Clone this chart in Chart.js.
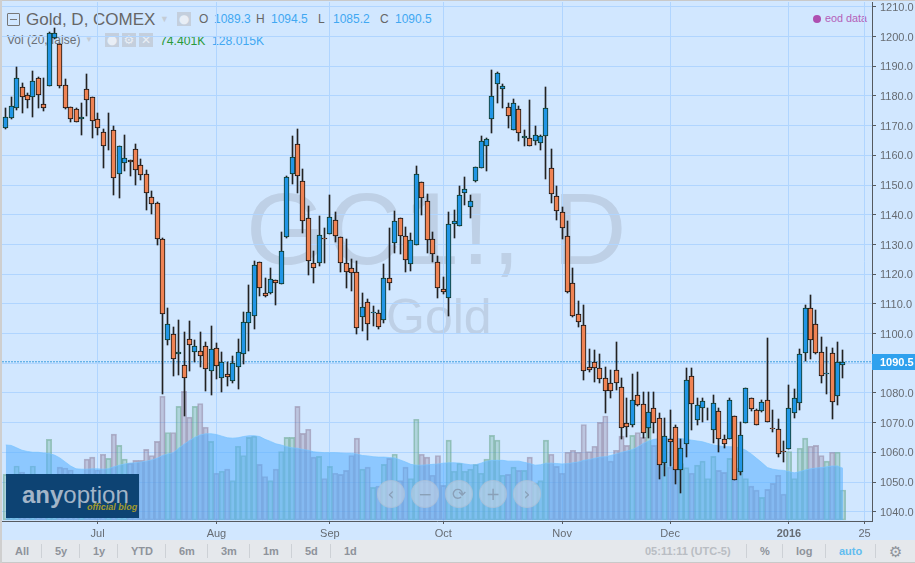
<!DOCTYPE html>
<html>
<head>
<meta charset="utf-8">
<script src="https://cdn.jsdelivr.net/npm/chart.js@4"></script>
<style>
  html, body { margin: 0; padding: 0; }
  body { width: 915px; height: 563px; position: relative; overflow: hidden; background: #d1e7ff; font-family: "Liberation Sans", Arial, sans-serif; }
  #chart { position: absolute; left: 0; top: 0; z-index: 2; }
  .t { position: absolute; white-space: nowrap; line-height: 1; }
  .under { z-index: 1; }
  .wm { color: #bed0e6; }
  .blue { color: #41a8f2; }
  .ico { position: absolute; width: 14px; height: 14px; background: #c4cfdd; color: #e8eef6; text-align: center; line-height: 14px; font-size: 12px; z-index: 1; font-family: "DejaVu Sans"; }
  #frameT { position: absolute; left: 0; top: 0; width: 915px; height: 1px; background: #c9c9c9; z-index: 4; }
  #frameL { position: absolute; left: 0; top: 0; width: 2px; height: 563px; background: #cfcfcf; z-index: 4; }
  #bar { position: absolute; left: 0; top: 540px; width: 915px; height: 22px; background: #e5e8ec; border-bottom: 1px solid #c9c9c9; z-index: 3; }
  #bar .t { top: 6px; font-size: 11px; font-weight: bold; color: #8e939b; }
  #bar i { position: absolute; top: 4px; width: 1px; height: 14px; background: #cdd1d6; }
  #logo { position: absolute; left: 6px; top: 474px; width: 133px; height: 44px; background: #0d4373; z-index: 3; }
  .zb { position: absolute; top: 480px; width: 26px; height: 26px; border-radius: 50%; background: rgba(195,210,228,.6); border: 1px solid rgba(165,185,210,.5); color: #8aa0b8; font: 17px/26px "DejaVu Sans"; text-align: center; z-index: 3; }
</style>
</head>
<body>
<div class="t under wm" style="left:246px;top:178px;font-size:102px;letter-spacing:2px">GC1!, D</div>
<div class="t under wm" style="left:386px;top:292px;font-size:50px">Gold</div>

<div class="under" style="position:absolute;left:7px;top:13px;width:11px;height:11px;border:1px solid #777;border-radius:1px"></div>
<div class="under" style="position:absolute;left:10px;top:19px;width:7px;height:1px;background:#777"></div>
<div class="t under" style="left:26px;top:11px;font-size:17px;color:#666">Gold, D, COMEX</div>
<div class="t under" style="left:160px;top:15px;font-size:9px;color:#c4ccd6">▼</div>
<div class="ico" style="left:177px;top:12px">●</div>
<div class="t under" style="left:199px;top:13px;font-size:12px;color:#666">O</div>
<div class="t under blue" style="left:214px;top:13px;font-size:12px">1089.3</div>
<div class="t under" style="left:256px;top:13px;font-size:12px;color:#666">H</div>
<div class="t under blue" style="left:271px;top:13px;font-size:12px">1094.5</div>
<div class="t under" style="left:318px;top:13px;font-size:12px;color:#666">L</div>
<div class="t under blue" style="left:333px;top:13px;font-size:12px">1085.2</div>
<div class="t under" style="left:380px;top:13px;font-size:12px;color:#666">C</div>
<div class="t under blue" style="left:395px;top:13px;font-size:12px">1090.5</div>

<div class="t under" style="left:7px;top:34px;font-size:12px;color:#6a6f76">Vol (20, false)</div>
<div class="t under" style="left:85px;top:36px;font-size:8px;color:#c4ccd6">▼</div>
<div class="ico" style="left:105px;top:33px">●</div>
<div class="ico" style="left:122px;top:33px">⚙</div>
<div class="ico" style="left:139px;top:33px">✕</div>
<div class="t under" style="left:160px;top:35px;font-size:12.2px;color:#2a9a3a">74.401K</div>
<div class="t under blue" style="left:212px;top:35px;font-size:12.2px">128.015K</div>

<div class="under" style="position:absolute;left:813px;top:15px;width:8px;height:8px;border-radius:50%;background:#ae4fb0"></div>
<div class="t under" style="left:825px;top:13px;font-size:10.8px;color:#b45fb8">eod data</div>

<canvas id="chart" width="915" height="563"></canvas>

<div id="logo">
  <div class="t" style="left:16px;top:9px;font-size:24px;color:#a3b5c8"><b>any</b>option</div>
  <div class="t" style="left:81px;top:29px;font-size:9px;font-weight:bold;font-style:italic;color:#a39a2c">official blog</div>
</div>
<div class="zb" style="left:377px">‹</div>
<div class="zb" style="left:411px">−</div>
<div class="zb" style="left:445px">⟳</div>
<div class="zb" style="left:479px">+</div>
<div class="zb" style="left:513px">›</div>

<div id="bar">
  <span class="t" style="left:15px">All</span><i style="left:41px"></i>
  <span class="t" style="left:55px">5y</span><i style="left:79px"></i>
  <span class="t" style="left:93px">1y</span><i style="left:117px"></i>
  <span class="t" style="left:131px">YTD</span><i style="left:165px"></i>
  <span class="t" style="left:179px">6m</span><i style="left:207px"></i>
  <span class="t" style="left:221px">3m</span><i style="left:249px"></i>
  <span class="t" style="left:263px">1m</span><i style="left:291px"></i>
  <span class="t" style="left:305px">5d</span><i style="left:330px"></i>
  <span class="t" style="left:344px">1d</span>
  <span class="t" style="left:645px;color:#b9bdc3">05:11:11 (UTC-5)</span><i style="left:746px"></i>
  <span class="t" style="left:760px">%</span><i style="left:782px"></i>
  <span class="t" style="left:796px">log</span><i style="left:825px"></i>
  <span class="t" style="left:839px;color:#62bdf0">auto</span><i style="left:875px"></i>
  <span class="t" style="left:889px;top:3px;font:15px 'DejaVu Sans'">⚙</span>
</div>
<div id="frameT"></div>
<div id="frameL"></div>

<script>
// daily bars, Jun 2015 - Jan 2016
const opens = [
  1169.2,1172.6,1175.9,1182.9,1180.2,1179.6,1186.2,1177.3,1183.3,1199.5,
  1197.5,1183.7,1176.3,1175.7,1172.2,1182.3,1179.6,1172.2,1167.8,1172.8,
  1168.5,1153.7,1157.4,1158.4,1162.1,1156.7,1153.7,1146.0,1143.9,1132.0,
  1097.8,1099.8,1093.1,1089.4,1098.3,1093.8,1094.1,1095.8,1087.4,1095.1,
  1085.0,1086.4,1083.9,1088.7,1093.1,1103.5,1105.9,1124.1,1113.6,1113.6,
  1118.0,1116.7,1132.4,1153.7,1163.8,1151.3,1138.9,1123.9,1123.7,1132.2,
  1133.5,1138.2,1132.5,1123.7,1122.1,1120.7,1105.6,1110.6,1107.1,1106.9,
  1104.5,1118.7,1130.5,1138.9,1132.8,1123.4,1129.8,1150.9,1144.6,1131.8,
  1124.1,1115.0,1112.0,1136.9,1136.2,1147.3,1142.6,1151.3,1155.7,1163.0,
  1172.2,1184.0,1182.3,1176.3,1168.5,1175.6,1165.8,1165.8,1164.8,1164.1,
  1166.5,1155.7,1146.3,1140.9,1132.8,1117.0,1106.6,1102.9,1088.7,1090.4,
  1088.4,1085.0,1083.3,1087.7,1082.0,1069.9,1069.2,1079.3,1076.3,1068.2,
  1074.9,1071.5,1056.4,1064.5,1068.5,1054.0,1062.8,1085.8,1070.9,1074.9,
  1072.8,1067.5,1073.9,1064.5,1064.5,1072.1,1053.4,1069.9,1078.3,1074.2,
  1073.9,1077.6,1068.2,1067.8,1060.4,1061.1,1073.2,1076.5,1093.4,1108.6,
  1103.2,1093.8,1086.5,1093.4,1079.0,1089.3
];
const closes = [
  1172.9,1176.8,1185.9,1179.6,1178.6,1185.0,1180.3,1176.1,1201.2,1201.2,
  1183.3,1175.9,1172.2,1171.2,1172.9,1178.6,1171.6,1169.2,1163.1,1173.0,
  1152.4,1163.1,1159.1,1157.7,1155.0,1153.4,1147.2,1143.6,1131.8,1106.6,
  1103.1,1091.4,1093.8,1085.2,1096.1,1095.7,1092.4,1088.0,1094.8,1089.1,
  1090.4,1085.4,1090.1,1093.8,1103.9,1107.2,1123.1,1115.3,1112.6,1118.4,
  1117.0,1127.8,1152.7,1159.4,1153.0,1137.9,1124.4,1122.1,1133.2,1131.8,
  1139.2,1132.8,1123.7,1120.7,1120.4,1101.9,1108.9,1103.2,1107.3,1102.2,
  1118.7,1116.9,1137.9,1132.8,1124.7,1131.5,1153.7,1145.6,1131.5,1126.8,
  1115.3,1114.0,1136.9,1137.9,1146.6,1148.7,1144.6,1156.1,1164.8,1165.5,
  1180.0,1187.7,1183.3,1173.2,1177.6,1167.5,1166.5,1163.1,1166.8,1166.4,
  1175.9,1147.0,1141.2,1135.5,1114.0,1105.9,1103.9,1087.4,1087.7,1088.4,
  1084.7,1080.6,1080.6,1083.3,1068.2,1068.5,1077.6,1075.9,1066.5,1073.6,
  1069.9,1055.9,1065.5,1063.5,1054.0,1061.4,1084.4,1076.3,1075.9,1077.3,
  1073.0,1076.6,1064.5,1062.8,1077.6,1050.7,1065.8,1081.6,1074.6,1069.2,
  1076.9,1070.2,1067.8,1059.4,1060.1,1074.9,1078.3,1093.1,1108.6,1097.8,
  1093.4,1085.7,1086.7,1076.9,1090.4,1090.5
];
const highs = [
  1175.9,1179.8,1189.7,1184.3,1181.0,1188.5,1186.4,1186.0,1201.7,1202.9,
  1197.6,1185.7,1176.4,1175.8,1177.6,1187.5,1179.7,1174.2,1168.9,1174.4,
  1170.0,1163.2,1166.9,1158.5,1163.8,1158.9,1155.1,1148.1,1144.3,1132.1,
  1108.6,1102.2,1104.5,1100.5,1104.3,1097.9,1100.5,1097.1,1102.6,1096.8,
  1093.8,1090.5,1092.3,1098.2,1107.2,1116.4,1124.5,1124.2,1118.8,1122.2,
  1118.1,1134.3,1152.9,1166.6,1168.9,1155.4,1143.0,1127.9,1139.7,1135.7,
  1146.7,1140.9,1132.6,1131.9,1125.2,1124.4,1113.7,1111.6,1109.4,1108.0,
  1123.5,1135.5,1141.2,1139.0,1136.0,1133.8,1156.5,1151.0,1147.1,1134.3,
  1126.2,1118.9,1141.0,1141.6,1149.8,1152.7,1146.7,1156.2,1166.6,1165.8,
  1188.8,1188.0,1184.1,1177.8,1179.1,1176.5,1168.6,1178.7,1170.0,1166.9,
  1183.0,1162.1,1149.8,1142.6,1138.0,1122.1,1111.0,1109.7,1094.8,1094.4,
  1093.1,1088.7,1087.7,1097.1,1085.0,1078.4,1086.5,1087.1,1080.3,1080.3,
  1080.3,1073.2,1071.5,1074.3,1069.3,1064.5,1088.5,1088.5,1078.3,1078.4,
  1075.0,1079.4,1074.9,1065.9,1078.3,1072.2,1070.3,1081.7,1078.4,1074.6,
  1077.5,1098.5,1074.3,1071.2,1063.7,1082.8,1081.3,1094.8,1109.7,1113.1,
  1108.0,1098.8,1095.5,1095.1,1097.1,1094.5
];
const lows = [
  1169.0,1172.4,1175.4,1174.4,1176.1,1172.8,1175.8,1174.8,1183.3,1199.3,
  1182.7,1175.7,1171.2,1171.1,1167.0,1173.1,1165.7,1166.7,1155.9,1161.9,
  1146.7,1145.7,1154.9,1153.2,1149.9,1151.8,1141.7,1140.3,1129.7,1079.7,
  1096.0,1085.6,1085.9,1072.1,1087.5,1090.6,1088.9,1080.8,1079.2,1084.8,
  1080.5,1082.2,1083.5,1081.5,1089.6,1094.0,1101.5,1112.7,1112.2,1113.5,
  1109.7,1116.6,1132.3,1150.4,1147.5,1134.0,1119.6,1116.9,1122.9,1123.7,
  1133.4,1130.9,1120.6,1115.5,1114.5,1100.0,1100.9,1097.7,1102.4,1101.4,
  1103.5,1114.8,1127.0,1126.9,1120.9,1121.2,1129.7,1140.0,1127.3,1124.2,
  1112.1,1113.3,1105.8,1132.3,1136.1,1143.3,1138.8,1151.2,1155.6,1154.9,
  1167.4,1177.8,1175.9,1169.2,1168.4,1164.9,1163.2,1163.0,1163.6,1161.9,
  1152.2,1143.9,1138.3,1131.9,1113.6,1105.6,1102.2,1084.4,1087.2,1083.8,
  1083.3,1073.2,1078.4,1081.1,1064.5,1065.3,1068.4,1075.5,1064.8,1065.0,
  1066.5,1051.1,1051.9,1055.3,1049.4,1046.3,1058.6,1067.6,1069.3,1070.2,
  1071.0,1063.2,1060.0,1061.6,1064.4,1050.6,1052.5,1069.8,1073.9,1069.1,
  1073.7,1070.1,1066.7,1058.3,1056.6,1061.0,1071.6,1074.3,1090.8,1091.5,
  1093.1,1083.3,1079.5,1071.2,1075.8,1085.2
];
// volume in thousands
const volumes = [
  113,99,134,119,105,134,105,100,200,110,
  131,129,124,110,100,151,156,124,163,153,
  213,185,151,141,148,148,175,160,195,307,
  217,217,282,319,255,282,289,230,195,116,
  121,126,98,183,160,205,208,138,108,98,
  126,170,205,205,282,215,225,156,158,103,
  133,116,113,123,160,203,126,131,81,84,
  138,153,163,98,131,103,250,163,156,111,
  160,86,198,121,141,121,126,138,116,151,
  210,198,111,113,131,123,123,156,91,98,
  198,163,133,116,168,173,168,237,170,183,
  242,258,146,173,208,185,210,217,205,230,
  185,150,140,131,131,140,130,116,136,146,
  103,158,123,118,153,129,118,103,84,74,
  56,76,91,111,64,170,103,178,203,183,
  185,160,146,168,168,74.4
];
const volumeMA = [
  186,185,179,173,170,168,168,166,165,161,
  154,144,134,127,126,126,127,127,126,127,
  132,136,139,141,142,144,146,149,153,160,
  164,167,178,188,197,205,211,214,214,212,
  208,204,203,204,207,209,209,207,200,195,
  189,186,182,179,178,175,173,169,168,167,
  167,167,166,165,165,164,160,159,157,156,
  156,155,154,149,144,138,136,136,137,138,
  139,141,142,142,141,139,137,137,141,146,
  148,148,148,146,146,146,143,140,136,137,
  141,141,140,139,140,142,144,148,150,153,
  156,157,160,164,168,171,175,181,190,196,
  200,202,203,202,202,202,200,198,196,194,
  190,186,184,182,182,181,179,173,164,153,
  142,130,126,124,123,120,117,120,124,127,
  129,130,132,134,134,128
];

const priceTicks = [1040,1050,1060,1070,1080,1090,1100,1110,1120,1130,1140,1150,1160,1170,1180,1190,1200,1210];
const monthIndex = [17,39,60,81,103,123,145,159];
const monthLabels = ['Jul','Aug','Sep','Oct','Nov','Dec','2016','25'];

const xMin = -0.704, xMax = 160.37;
const lastClose = closes[closes.length - 1];

const isUp = closes.map((c, i) => c >= opens[i]);
const upFill = '#2196e6', upEdge = '#12361f';
const downFill = '#ef8354', downEdge = '#111111';

// snap candles to whole pixels, the reference is crisp
const snapCandles = {
  id: 'snapCandles',
  beforeDatasetsDraw(chart) {
    chart.data.datasets.forEach((ds, n) => {
      if (!ds.snap) return;
      chart.getDatasetMeta(n).data.forEach(el => {
        el.x = Math.round(el.x - 0.5) + 0.5;
        el.y = Math.round(el.y);
        el.base = Math.round(el.base);
      });
    });
  }
};

const priceTag = {
  id: 'priceTag',
  afterDraw(chart) {
    const { ctx, scales } = chart;
    const y = Math.round(scales.y.getPixelForValue(lastClose));
    ctx.save();
    ctx.fillStyle = '#2fa1ee';
    ctx.fillRect(872, y - 8, 43, 16);
    ctx.fillStyle = '#fff';
    ctx.font = 'bold 11px "Liberation Sans"';
    ctx.textAlign = 'left';
    ctx.textBaseline = 'middle';
    ctx.fillText(lastClose.toFixed(1), 880, y + 1);
    ctx.restore();
  }
};

new Chart(document.getElementById('chart'), {
  type: 'bar',
  data: {
    datasets: [
      {
        label: 'Vol',
        yAxisID: 'yVol',
        order: 4,
        grouped: false,
        barThickness: 5.4,
        borderWidth: 1,
        borderSkipped: false,
        data: volumes.map((v, i) => ({ x: i, y: v })),
        backgroundColor: isUp.map(u => u ? 'rgba(96,170,140,.3)' : 'rgba(140,120,150,.3)'),
        borderColor: isUp.map(u => u ? 'rgba(96,160,130,.5)' : 'rgba(130,110,140,.45)')
      },
      {
        type: 'line',
        label: 'Vol MA',
        yAxisID: 'yVol',
        order: 3,
        data: volumeMA.map((v, i) => ({ x: i, y: v })),
        borderColor: 'rgba(120,195,255,.7)',
        borderWidth: 1,
        pointRadius: 0,
        tension: 0,
        fill: 'origin',
        backgroundColor: 'rgba(85,175,255,.55)'
      },
      {
        type: 'line',
        label: 'Last',
        order: 2.5,
        data: [{ x: xMin, y: lastClose }, { x: xMax, y: lastClose }],
        borderColor: '#3a9ddf',
        borderWidth: 1,
        borderDash: [2, 1],
        pointRadius: 0
      },
      {
        label: 'Wick',
        snap: true,
        order: 2,
        grouped: false,
        barThickness: 1,
        borderWidth: 0,
        data: highs.map((h, i) => ({ x: i, y: [lows[i], h] })),
        backgroundColor: '#222222'
      },
      {
        label: 'Gold',
        snap: true,
        order: 1,
        grouped: false,
        barThickness: 5,
        borderWidth: 1,
        borderSkipped: false,
        data: opens.map((o, i) => ({ x: i, y: [Math.min(o, closes[i]), Math.max(o, closes[i])] })),
        backgroundColor: isUp.map(u => u ? upFill : downFill),
        borderColor: isUp.map(u => u ? upEdge : downEdge)
      }
    ]
  },
  options: {
    responsive: false,
    animation: false,
    layout: { autoPadding: false, padding: { left: 2, top: 2 } },
    plugins: { legend: { display: false }, tooltip: { enabled: false } },
    scales: {
      x: {
        type: 'linear',
        offset: false,
        min: xMin,
        max: xMax,
        afterFit(s) { s.height = 42; s.paddingLeft = 0; s.paddingRight = 0; },
        afterBuildTicks(s) { s.ticks = monthIndex.map(v => ({ value: v })); },
        grid: { offset: false, color: '#b0d5ff', tickColor: '#555a60', tickLength: 3 },
        border: { color: '#555a60', width: 1 },
        ticks: {
          autoSkip: false,
          maxRotation: 0,
          padding: 3,
          color: '#666b72',
          font: c => ({ size: 11, family: '"Liberation Sans"', weight: c.tick && c.tick.value === 145 ? 'bold' : 'normal' }),
          callback: v => monthLabels[monthIndex.indexOf(v)]
        }
      },
      y: {
        position: 'right',
        min: 1036.9,
        max: 1211.65,
        afterFit(s) { s.width = 43; s.paddingTop = 0; s.paddingBottom = 0; },
        afterBuildTicks(s) { s.ticks = priceTicks.map(v => ({ value: v })); },
        grid: { color: '#b0d5ff', tickColor: '#555a60', tickLength: 4 },
        border: { color: '#555a60', width: 1 },
        ticks: {
          autoSkip: false,
          padding: 4,
          labelOffset: 1,
          color: '#666b72',
          font: { size: 11, family: '"Liberation Sans"' },
          callback: v => v.toFixed(1)
        }
      },
      yVol: { display: false, min: -2.5, max: 1285 }
    }
  },
  plugins: [snapCandles, priceTag]
});
</script>
</body>
</html>
